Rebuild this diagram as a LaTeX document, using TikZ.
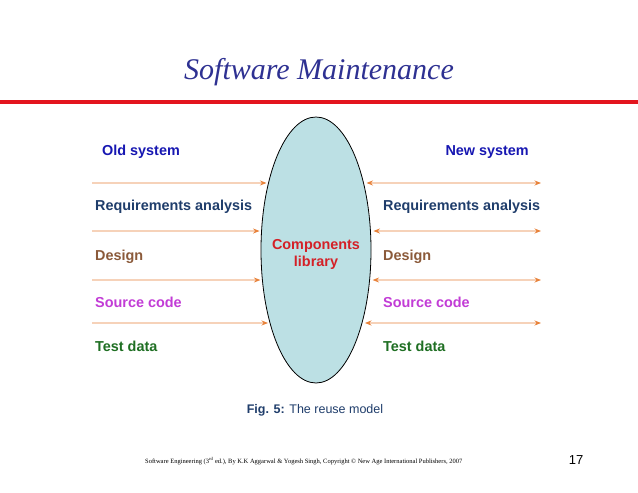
\documentclass[tikz,border=0pt]{standalone}
\usepackage{fontspec}
\setmainfont{Liberation Sans}
\newfontfamily\serifft{Liberation Serif}
\usetikzlibrary{shapes.geometric,arrows.meta,intersections}

\definecolor{titleblue}{HTML}{2E3192}
\definecolor{rulered}{HTML}{E3151E}
\definecolor{sysblue}{HTML}{1717B2}
\definecolor{reqnavy}{HTML}{1F3D6B}
\definecolor{desbrown}{HTML}{8B5A3A}
\definecolor{srcpink}{HTML}{C23CD6}
\definecolor{tstgreen}{HTML}{1F6F23}
\definecolor{libred}{HTML}{D42027}
\definecolor{libfill}{HTML}{BCE0E4}
\definecolor{arroworange}{HTML}{E8823A}

\begin{document}
\begin{tikzpicture}[x=1pt,y=-1pt,
  lbl/.style={font=\fontsize{14.4}{17}\selectfont\bfseries, inner sep=0pt},
  flow/.style={draw=arroworange, line width=0.9pt, >={Stealth[length=6.5pt,width=5pt]}}]

\useasboundingbox[fill=white] (0,0) rectangle (638,493);

\node (title) at (319,72) {\fontsize{30}{32}\selectfont\itshape\serifft\color{titleblue}Software Maintenance};
\draw[rulered, line width=3.5pt] (0,102) -- (638,102);

\node (lib) at (316,250) [ellipse, draw, line width=0.8pt, fill=libfill, minimum width=110pt, minimum height=266pt, name path=lib] {};
\node (libtxt) at (316,254) [lbl, libred, align=center] {Components\\library};

% old side
\node (oldsys) at (102,152) [lbl, anchor=west, sysblue] {Old system};
\node (reqold) at (95,207) [lbl, anchor=west, reqnavy] {Requirements analysis};
\node (desold) at (95,257) [lbl, anchor=west, desbrown] {Design};
\node (srcold) at (95,302) [lbl, anchor=west, srcpink] {Source code};
\node (tstold) at (95,346) [lbl, anchor=west, tstgreen] {Test data};

% new side
\node (newsys) at (529,152) [lbl, anchor=east, sysblue] {New system};
\node (reqnew) at (383,207) [lbl, anchor=west, reqnavy] {Requirements analysis};
\node (desnew) at (383,257) [lbl, anchor=west, desbrown] {Design};
\node (srcnew) at (383,302) [lbl, anchor=west, srcpink] {Source code};
\node (tstnew) at (383,346) [lbl, anchor=west, tstgreen] {Test data};

\foreach \i/\y in {1/183,2/231,3/280,4/323} {
  \coordinate (in\i) at (92,\y);
  \coordinate (out\i) at (541,\y);
  \path[name path=lrow\i] (in\i) -- (lib.center |- in\i);
  \path[name path=rrow\i] (lib.center |- out\i) -- (out\i);
  \path[name intersections={of=lib and lrow\i, by=lft\i}];
  \path[name intersections={of=lib and rrow\i, by=rgt\i}];
  \draw[flow, ->, shorten >=2pt] (in\i) -- (lft\i);
  \draw[flow, <->, shorten <=3pt] (rgt\i) -- (out\i);
}

\node (caption) at (315,410) {\fontsize{12.5}{14}\selectfont\color{reqnavy}\textbf{Fig. 5:} The reuse model};

\node (footer) at (145,461) [anchor=west, inner sep=0pt] {\fontsize{6.5}{8}\selectfont\serifft Software Engineering (3\textsuperscript{rd} ed.), By K.K Aggarwal \& Yogesh Singh, Copyright \textcopyright{} New Age International Publishers, 2007};
\node (pageno) at (576,460) {\fontsize{13}{14}\selectfont 17};

\end{tikzpicture}
\end{document}
